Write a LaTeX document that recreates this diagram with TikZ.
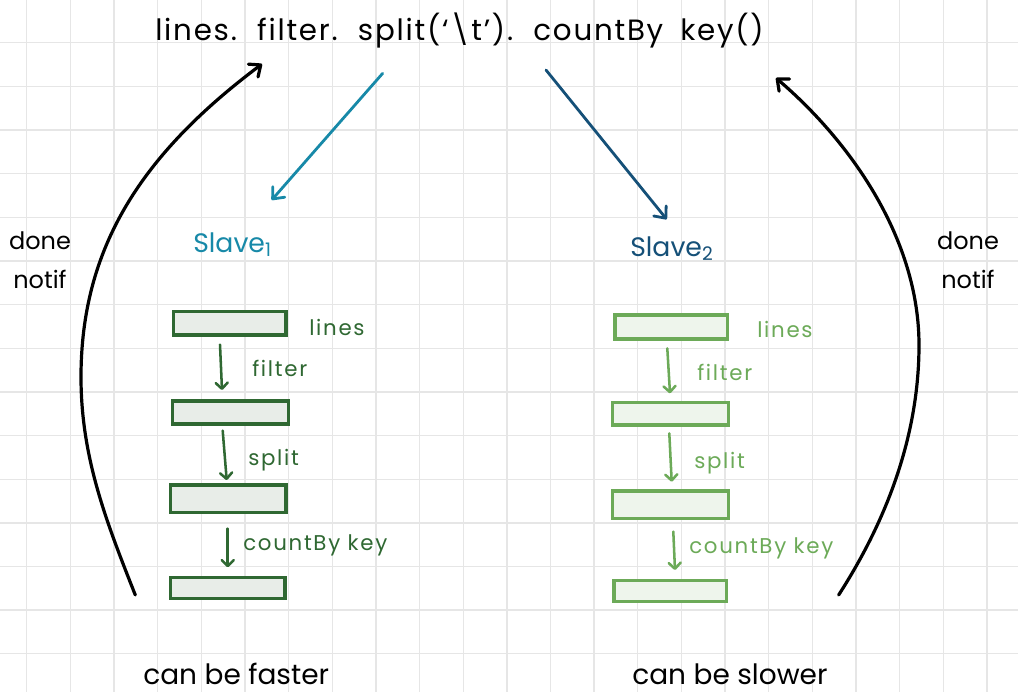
\documentclass[tikz,border=0pt]{standalone}
\usepackage{fontspec}
\setmainfont{Poppins}
\newfontfamily\widefont[LetterSpace=6]{Poppins}
\newfontfamily\labelfont[LetterSpace=8]{Poppins}
\usetikzlibrary{arrows.meta,calc}
\definecolor{gridgrey}{HTML}{E6E6E6}
\definecolor{tealblue}{HTML}{1789A8}
\definecolor{navyblue}{HTML}{155078}
\definecolor{darkgreen}{HTML}{2F6832}
\definecolor{darkfill}{HTML}{E8EDE8}
\definecolor{lightgreen}{HTML}{6CAA58}
\definecolor{lightfill}{HTML}{EEF5EC}
\newcommand\titlestyle{\widefont\fontsize{22}{26}\selectfont\spaceskip=0.58em\relax}
\begin{document}
\begin{tikzpicture}[x=0.75pt,y=-0.75pt,
  gridline/.style={draw=gridgrey, line width=1pt},
  txt/.style={inner sep=0pt, anchor=base west},
  boxsize/.style 2 args={minimum width=#1, minimum height=#2},
  stageA/.style={draw=darkgreen, fill=darkfill, line width=2.4pt, inner sep=0pt},
  stageB/.style={draw=lightgreen, fill=lightfill, line width=2.4pt, inner sep=0pt},
  opA/.style={txt, text=darkgreen, font=\labelfont\fontsize{16}{19}\selectfont},
  opB/.style={txt, text=lightgreen, font=\labelfont\fontsize{16}{19}\selectfont},
  flowA/.style={draw=darkgreen, line width=1.9pt, line cap=round, -{Straight Barb[length=4.5pt,width=9pt,round]}},
  flowB/.style={draw=lightgreen, line width=1.9pt, line cap=round, -{Straight Barb[length=4.5pt,width=9pt,round]}},
  dispatch/.style={line width=2.1pt, line cap=round, -{Straight Barb[length=7pt,width=12pt,round]}},
  notify/.style={draw=black, line width=2.4pt, line cap=round, -{Straight Barb[length=7pt,width=12pt,round]}},
  worker/.style={txt, font=\fontsize{20}{24}\selectfont},
  note/.style={inner sep=0pt, align=center, font=\fontsize{18}{29}\selectfont},
  remark/.style={txt, font=\fontsize{21}{25}\selectfont}
]
% page and squared paper
\useasboundingbox (0,0) rectangle (1018,692);
\fill[white] (0,0) rectangle (1018,692);
\foreach \i in {0,...,22} \draw[gridline] ({26.7+43.65*\i},0) -- ({26.7+43.65*\i},692);
\foreach \j in {0,...,15} \draw[gridline] (0,{42.7+43.65*\j}) -- (1018,{42.7+43.65*\j});

% driver program
\node[txt, font=\titlestyle] (title) at (155,41)
  {lines. filter. split(‘\textbackslash t’). countBy key()};

% workers
\node[worker, text=tealblue] (slave1) at (193,252) {Slave\textsubscript{1}};
\node[worker, text=navyblue] (slave2) at (630,256) {Slave\textsubscript{2}};

% stages on the first worker
\node[stageA, boxsize={84.5pt}{17.6pt}] (a1) at (229.7,323.3) {};
\node[stageA, boxsize={86.8pt}{17.3pt}] (a2) at (230.5,412.5) {};
\node[stageA, boxsize={86.5pt}{20.5pt}] (a3) at (228.3,498.7) {};
\node[stageA, boxsize={85.8pt}{15.8pt}] (a4) at (227.8,587.8) {};

% stages on the second worker
\node[stageB, boxsize={84.3pt}{18.1pt}] (b1) at (671.2,327) {};
\node[stageB, boxsize={86.8pt}{17.0pt}] (b2) at (670.5,413.7) {};
\node[stageB, boxsize={86.8pt}{20.5pt}] (b3) at (670.5,504.7) {};
\node[stageB, boxsize={84.5pt}{15.8pt}] (b4) at (670.3,591.2) {};

% operation labels
\node[opA] (la1) at (309,335) {lines};
\node[opA] (la2) at (252,376) {filter};
\node[opA] (la3) at (248,465) {split};
\node[opA] (la4) at (243,550) {countBy key};
\node[opB] (lb1) at (757,337) {lines};
\node[opB] (lb2) at (697,380) {filter};
\node[opB] (lb3) at (694,468) {split};
\node[opB] (lb4) at (689,553) {countBy key};

% side notes
\node[note] (doneL) at (40,260) {done\\notif};
\node[note] (doneR) at (968,260) {done\\notif};
\node[remark] (fast) at (143,684) {can be faster};
\node[remark] (slow) at (632,684) {can be slower};

% stage-to-stage arrows
\draw[flowA] ($(a1.south)+(-9.7,8)$) -- ($(a2.north)+(-8.5,-9.3)$);
\draw[flowA] ($(a2.south)+(-7.8,5)$) -- ($(a3.north)+(-1.6,-3.3)$);
\draw[flowA] ($(a3.south)+(-0.6,14.6)$) -- ($(a4.north)+(-0.1,-8.3)$);
\draw[flowB] ($(b1.south)+(-3.9,7.7)$) -- ($(b2.north)+(-0.5,-7.4)$);
\draw[flowB] ($(b2.south)+(-1.2,6.7)$) -- ($(b3.north)+(1.2,-7.7)$);
\draw[flowB] ($(b3.south)+(2.8,11.6)$) -- ($(b4.north)+(4.7,-9)$);

% dispatch from the driver to the workers
\draw[dispatch, draw=tealblue] ($(title.base west)+(227.7,32.3)$) -- ($(slave1.base west)+(78.7,-52)$);
\draw[dispatch, draw=navyblue] ($(title.base west)+(391,29)$) -- ($(slave2.base west)+(36.7,-36.7)$);

% completion notices back to the driver
\draw[notify] ($(a4.west)+(-33.7,7.2)$) .. controls (106,521) and (81,457) .. (81,377)
  .. controls (81,247) and (142,154) .. ($(title.base west)+(107,23)$);
\draw[notify] ($(b4.east)+(110.4,3.8)$) .. controls (887,520) and (919,435) .. (919,345)
  .. controls (919,240) and (852,143) .. ($(title.base west)+(621,37)$);
\end{tikzpicture}
\end{document}
